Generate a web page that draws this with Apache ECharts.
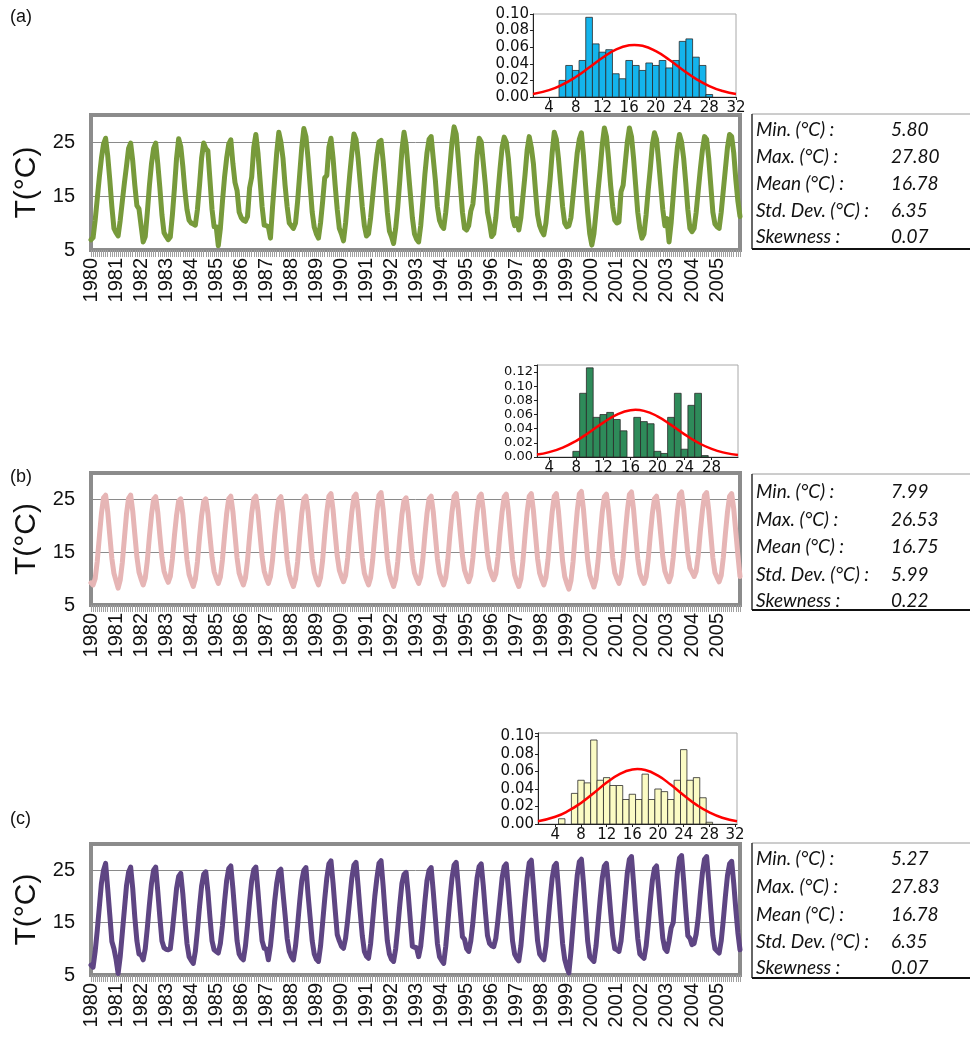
<!DOCTYPE html>
<html><head><meta charset="utf-8">
<script src="https://cdn.jsdelivr.net/npm/echarts@6/dist/echarts.min.js"></script>
<style>html,body{margin:0;padding:0;background:#fff}#c{width:970px;height:1039px}</style>
</head><body><div id="c"></div>
<script>
// ---------- tick labels / categories ----------
const years = ['1980','1981','1982','1983','1984','1985','1986','1987','1988','1989','1990','1991','1992',
  '1993','1994','1995','1996','1997','1998','1999','2000','2001','2002','2003','2004','2005'];
const monthCodes = ['01','02','03','04','05','06','07','08','09','10','11','12'];

// ---------- monthly temperature series (°C), Jan..Dec per row ----------
const seriesA = [
  6.9, 7.3,10.5,14.5,18.5,22.0,24.6,25.7,22.5,18.0,13.0, 9.0,
  8.2, 7.6,10.5,14.0,17.4,20.5,23.8,24.8,21.5,17.0,13.2,12.6,
  9.5, 6.5, 7.5,12.0,17.0,21.0,23.8,24.8,21.0,16.5,11.5, 8.2,
  7.5, 6.9, 7.4,11.5,16.5,22.0,25.6,24.2,20.5,16.0,12.5,10.5,
 10.0, 9.8, 9.6,12.5,17.0,22.0,24.8,23.8,23.4,18.0,12.5, 9.3,
  9.3, 5.8, 9.0,14.0,18.5,22.0,24.6,25.4,21.0,17.5,16.0,12.0,
 11.0,10.5,10.3,11.2,16.5,18.5,24.0,26.4,23.0,18.0,13.0, 9.6,
  9.5, 9.3, 7.2,13.0,18.0,23.0,26.8,25.0,22.0,17.0,13.0,10.0,
  9.5, 9.0,10.0,14.0,19.0,24.0,27.5,26.0,22.0,17.0,12.0, 9.2,
  8.0, 7.2,10.0,14.0,18.4,18.8,24.0,25.7,22.0,17.0,12.5, 9.0,
  8.0, 6.7,10.0,14.5,19.0,23.0,26.5,25.5,22.0,17.5,13.0, 9.5,
  7.6, 8.0,11.0,15.0,19.0,22.5,25.0,25.3,21.5,17.0,12.0, 8.5,
  7.5, 6.2, 9.0,13.0,18.0,23.5,26.8,24.5,20.0,15.5,11.0, 8.0,
  7.0, 6.5, 9.5,14.0,19.0,23.0,25.5,26.0,22.0,18.0,13.0,10.5,
  9.5, 9.0,12.0,16.0,20.5,25.0,27.8,26.5,22.0,17.0,12.0, 9.0,
  8.7, 9.5,12.2,13.5,17.5,22.5,25.7,25.0,21.0,17.0,12.0,10.0,
  7.5, 8.0,11.0,15.5,20.0,24.0,25.9,25.0,22.0,17.0,11.0, 9.5,
 10.8, 8.7,11.0,15.0,19.0,23.5,26.0,24.0,21.0,16.0,11.5, 9.5,
  8.5, 7.8,10.0,14.0,18.0,23.0,26.8,25.5,22.0,17.5,13.0,10.0,
  9.3, 9.5,11.0,15.0,19.0,23.0,25.5,26.7,22.5,17.0,12.0, 8.0,
  5.9, 8.0,12.0,16.0,20.0,24.5,27.6,26.0,22.0,17.0,13.0,10.5,
 10.0,10.2,15.8,17.0,21.0,25.0,27.6,26.0,22.0,17.0,12.0, 9.0,
  7.2, 8.0,11.5,16.0,20.0,24.5,26.7,25.5,21.5,17.0,12.5, 9.5,
 10.8, 6.5,10.0,15.0,20.0,24.0,26.4,25.0,22.0,17.5,12.5, 9.0,
  8.4, 9.0,12.0,16.0,20.0,23.5,26.0,25.5,22.0,17.0,12.0, 9.8,
  9.3, 9.0,12.0,16.0,20.0,24.0,26.4,26.0,23.0,18.0,14.0,11.2
];
const seriesB = [
  9.2, 8.8,10.0,13.3,17.9,22.3,25.3,25.8,22.7,18.2,13.8,11.0,
  9.6, 8.2, 9.7,13.0,17.6,22.2,25.2,25.8,22.8,18.4,14.1,11.2,
  9.9, 8.8,10.1,13.4,18.0,22.1,25.0,25.5,22.6,18.1,14.0,11.4,
 10.2, 9.3,10.4,13.7,18.2,22.0,24.7,25.1,22.3,17.8,13.6,10.8,
  9.6, 8.5, 9.9,13.2,17.8,21.9,24.6,25.1,22.4,18.0,14.0,11.3,
 10.1, 9.1,10.3,13.6,18.1,22.3,25.1,25.6,22.7,18.3,13.9,11.0,
  9.8, 8.8,10.1,13.4,18.0,22.3,25.1,25.6,22.8,18.4,14.1,11.4,
 10.1, 9.1,10.4,13.6,18.2,22.2,25.0,25.5,22.5,18.0,13.6,10.8,
  9.5, 8.5, 9.9,13.2,17.9,22.3,25.1,25.6,22.7,18.2,13.8,11.1,
  9.8, 8.8,10.2,13.5,18.3,22.6,25.6,26.1,23.0,18.5,14.3,11.6,
 10.4, 9.4,10.6,13.9,18.5,22.6,25.5,26.0,22.9,18.3,13.9,11.0,
  9.8, 8.8,10.2,13.6,18.3,22.7,25.8,26.3,23.1,18.4,13.8,10.9,
  9.6, 8.5, 9.9,13.3,17.9,22.1,24.8,25.3,22.4,17.9,13.7,11.1,
 10.0, 9.1,10.3,13.6,18.2,22.3,25.1,25.6,22.7,18.2,13.8,11.0,
  9.8, 8.8,10.2,13.6,18.4,22.6,25.6,26.1,23.0,18.5,14.3,11.6,
 10.4, 9.4,10.6,13.9,18.5,22.6,25.5,26.0,23.0,18.6,14.5,11.9,
 10.7, 9.8,10.9,14.1,18.6,22.6,25.5,26.0,22.8,18.1,13.6,10.7,
  9.5, 8.5, 9.9,13.4,18.2,22.6,25.6,26.1,22.9,18.3,13.8,11.0,
  9.8, 8.8,10.2,13.6,18.3,22.6,25.6,26.1,22.8,18.0,13.3,10.4,
  9.1, 8.0, 9.6,13.2,18.2,22.8,26.0,26.5,23.1,18.3,13.6,10.7,
  9.5, 8.4, 9.9,13.4,18.2,22.6,25.5,26.0,22.9,18.4,13.9,11.1,
 10.0, 9.1,10.4,13.8,18.5,22.8,25.9,26.4,23.1,18.4,13.8,11.0,
  9.9, 9.1,10.3,13.6,18.2,22.3,25.1,25.6,22.7,18.4,14.1,11.4,
 10.3, 9.4,10.6,14.0,18.6,22.8,25.9,26.4,23.3,18.9,14.6,12.0,
 11.2,10.4,11.4,14.5,19.0,22.9,25.8,26.3,23.0,18.4,13.9,11.1,
 10.2, 9.4,10.6,14.0,18.5,22.6,25.6,26.1,23.2,18.8,14.4,10.4
];
const seriesC = [
  6.9, 6.5, 9.5,13.5,18.0,22.5,25.0,26.3,21.5,16.5,11.4,10.0,
  8.0, 5.3, 8.5,13.0,17.5,22.0,24.6,25.6,21.5,16.0,11.5, 9.0,
  8.8, 7.9,10.0,14.0,18.5,22.5,25.0,25.6,21.0,16.0,11.5,10.2,
  9.9, 9.8,10.0,13.5,17.5,21.5,23.8,24.4,20.5,15.5,11.0, 8.5,
  7.8, 7.2, 9.5,13.5,18.0,22.0,24.2,24.7,21.0,16.0,11.5, 9.8,
  9.5, 9.2,11.0,14.5,19.0,23.0,25.3,25.8,21.5,16.5,11.5, 9.0,
  8.3, 7.9,10.5,14.5,19.0,23.0,25.1,25.6,21.0,16.0,11.5,10.1,
 10.0, 7.9,10.5,14.5,19.0,22.5,24.8,25.2,20.7,16.5,12.0, 9.5,
  8.5, 7.9,10.5,14.5,19.0,23.0,25.0,25.5,20.4,16.0,11.5, 9.0,
  8.0, 7.6,10.5,15.0,19.5,23.5,26.2,26.8,22.5,17.5,12.7,11.5,
 10.5,10.1,12.0,15.5,19.5,23.5,26.0,26.5,22.0,17.0,12.5, 9.5,
  8.6, 8.2,11.0,15.5,20.0,23.5,26.3,26.8,22.0,16.5,11.5, 9.0,
  8.0, 7.6,10.0,14.0,18.5,22.5,24.2,24.6,20.5,15.5,10.5,10.3,
 10.2, 8.5,10.5,14.5,19.0,23.0,25.0,25.5,21.0,16.0,11.0, 8.5,
  7.8, 7.2,10.5,15.0,19.5,23.5,26.0,26.5,22.0,17.0,12.3,11.8,
 10.0, 9.5,11.5,15.0,19.5,23.5,25.7,26.2,22.0,17.0,12.5,11.0,
 10.6,10.4,12.0,15.5,19.5,23.5,25.7,26.2,21.5,16.5,11.5, 9.0,
  8.2, 7.7,10.5,15.0,19.5,23.5,26.4,26.9,22.0,16.5,11.5, 9.0,
  8.4, 7.9,10.5,15.0,19.5,23.5,25.8,26.3,21.5,16.0,11.0, 8.0,
  6.5, 5.4, 9.5,14.5,19.5,24.0,26.6,27.1,22.5,17.0,11.5, 8.5,
  8.0, 7.6,10.5,15.0,19.5,23.5,25.8,26.3,22.0,17.0,12.5,10.0,
  9.8, 9.5,11.5,15.5,20.0,24.5,27.1,27.6,22.5,17.0,12.0, 9.0,
  8.6, 8.2,10.5,14.5,19.0,23.0,25.3,25.8,21.5,16.5,12.0,10.0,
  9.5,11.5,14.0,15.0,20.0,24.5,27.3,27.8,23.0,17.5,12.5,12.0,
 10.8,11.0,12.8,16.0,20.5,24.5,27.1,27.6,23.0,17.5,12.5,10.0,
  9.6, 9.2,11.5,15.5,20.0,24.0,26.2,26.7,22.5,17.5,13.0, 9.8
];

// ---------- histograms (relative frequency per 1 °C bin) ----------
const binsA = [6,7,8,9,10,11,12,13,14,15,16,17,18,19,20,21,22,23,24,25,26,27,28];
const histA = [0.020,0.038,0.032,0.044,0.096,0.064,0.054,0.057,0.028,0.022,0.044,0.038,0.032,0.041,0.038,0.044,0.035,0.044,0.067,0.070,0.048,0.038,0.003];
const binsB = [8,9,10,11,12,13,14,15,16,17,18,19,20,21,22,23,24,25,26,27];
const histB = [0.008,0.090,0.126,0.056,0.060,0.063,0.053,0.037,0.000,0.056,0.050,0.047,0.008,0.005,0.056,0.090,0.011,0.073,0.090,0.002];
const binsC = [5,6,7,8,9,10,11,12,13,14,15,16,17,18,19,20,21,22,23,24,25,26,27,28];
const histC = [0.006,0.000,0.035,0.050,0.047,0.096,0.050,0.053,0.044,0.044,0.028,0.034,0.028,0.057,0.028,0.040,0.037,0.028,0.050,0.085,0.050,0.053,0.030,0.002];

// ---------- fitted normal curves ----------
const curveXA = [1.6,4,6,8,10,12,14,16,16.78,18,20,22,24,26,28,30,32];
const curveYA = [0.0036,0.0083,0.0149,0.0241,0.0355,0.0473,0.0571,0.0623,0.0628,0.0617,0.0552,0.0448,0.0329,0.0219,0.0132,0.0072,0.0035];
const curveXB = [2.2,4,6,8,10,12,14,16,16.75,18,20,22,24,26,28,30,31.9];
const curveYB = [0.0035,0.0069,0.0133,0.0229,0.0353,0.0486,0.0599,0.0661,0.0666,0.0652,0.0575,0.0454,0.0320,0.0202,0.0114,0.0058,0.0027];
const curveXC = [1.3,4,6,8,10,12,14,16,16.78,18,20,22,24,26,28,30,32.3];
const curveYC = [0.0032,0.0083,0.0149,0.0241,0.0355,0.0473,0.0571,0.0623,0.0628,0.0617,0.0552,0.0448,0.0329,0.0219,0.0132,0.0072,0.0032];

const histTicksA = [4,8,12,16,20,24,28,32];
const histTicksB = [4,8,12,16,20,24,28];
const histTicksC = [4,8,12,16,20,24,28,32];

// ---------- statistics tables ----------
const statLabels = ['Min. (°C) :','Max. (°C) :','Mean (°C) :','Std. Dev. (°C) :','Skewness :'];
const statsA = ['5.80','27.80','16.78','6.35','0.07'];
const statsB = ['7.99','26.53','16.75','5.99','0.22'];
const statsC = ['5.27','27.83','16.78','6.35','0.07'];

// ---------- build ----------
const cats = years.flatMap(y => monthCodes.map(m => y + '-' + m));
const FONT = 'Liberation Sans, Arial, sans-serif';
const HFONT = 'DejaVu Sans, sans-serif';

const panels = [
  {ts:{left:91,top:115,height:135}, hg:{left:533,top:14,width:203,height:83}, xr:[1.6,32], ymax:0.10, ylab:0.10, yfs:15,
   data:seriesA, color:'#779a3b', bins:binsA, freq:histA, barColor:'#14b4ec', cx:curveXA, cy:curveYA, ticks:histTicksA,
   stats:statsA, tab:{top:114,bottom:249,rows:[130,157,184,211,237]}, label:'(a)', ly:18},
  {ts:{left:91,top:473,height:132}, hg:{left:537,top:365,width:201,height:92}, xr:[2.2,31.9], ymax:0.13, ylab:0.12, yfs:13,
   data:seriesB, color:'#e6b5b5', bins:binsB, freq:histB, barColor:'#2e8b5a', cx:curveXB, cy:curveYB, ticks:histTicksB,
   stats:statsB, tab:{top:474,bottom:610,rows:[492,520,547,575,601]}, label:'(b)', ly:478},
  {ts:{left:91,top:844,height:131}, hg:{left:538,top:733,width:199,height:91}, xr:[1.3,32.3], ymax:0.104, ylab:0.10, yfs:15,
   data:seriesC, color:'#5e4583', bins:binsC, freq:histC, barColor:'#fbfbc4', cx:curveXC, cy:curveYC, ticks:histTicksC,
   stats:statsC, tab:{top:843,bottom:978,rows:[859,887,915,942,968]}, label:'(c)', ly:820}
];

const grid = [], xAxis = [], yAxis = [], series = [], graphic = [];
panels.forEach((p, k) => {
  const gi = grid.length;
  grid.push({left:p.ts.left, top:p.ts.top, width:649, height:p.ts.height, show:true, borderColor:'#8c8c8c', borderWidth:4, backgroundColor:'#fff'});
  grid.push({left:p.hg.left, top:p.hg.top, width:p.hg.width, height:p.hg.height, show:true, borderColor:'#a8a8a8', borderWidth:1});
  // time series axes
  xAxis.push({type:'category', gridIndex:gi, data:cats, boundaryGap:false,
    axisLine:{show:false},
    axisTick:{show:true, interval:0, length:7, lineStyle:{color:'#a0a0a0', width:1}},
    axisLabel:{interval:(i)=> i % 12 === 0, formatter:(v)=> v.slice(0,4), rotate:90, fontSize:20, color:'#111', margin:8, fontFamily:FONT},
    splitLine:{show:false}});
  yAxis.push({type:'value', gridIndex:gi, min:5, max:30, interval:10,
    axisLine:{show:false}, axisTick:{show:false},
    axisLabel:{formatter:(v)=> v === 30 ? '' : String(v), fontSize:20, color:'#111', margin:16, fontFamily:FONT, showMinLabel:true},
    splitLine:{show:true, lineStyle:{color:'#8a8a8a', width:1}},
    name:'T(°C)', nameLocation:'middle', nameGap:47, nameRotate:90,
    nameTextStyle:{fontSize:30, color:'#111', fontFamily:FONT}});
  // histogram axes
  xAxis.push({type:'value', gridIndex:gi+1, min:p.xr[0], max:p.xr[1],
    axisLine:{show:true, onZero:false, lineStyle:{color:'#222', width:1}},
    axisTick:{show:true, customValues:p.ticks, length:3, lineStyle:{color:'#222'}},
    axisLabel:{customValues:p.ticks, fontSize:15, lineHeight:12, color:'#111', margin:5, fontFamily:HFONT, hideOverlap:false},
    splitLine:{show:false}});
  yAxis.push({type:'value', gridIndex:gi+1, min:0, max:p.ymax, interval:0.02,
    axisLine:{show:true, lineStyle:{color:'#222', width:1}},
    axisTick:{show:true, length:3, lineStyle:{color:'#222'}},
    axisLabel:{formatter:(v)=> v > p.ylab + 1e-9 ? '' : v.toFixed(2), fontSize:p.yfs, lineHeight:10, color:'#111', margin:4, fontFamily:HFONT,
      showMinLabel:true, hideOverlap:false},
    splitLine:{show:false}});
  series.push({type:'line', xAxisIndex:gi, yAxisIndex:gi, data:p.data, showSymbol:false, symbol:'none',
    lineStyle:{color:p.color, width:5, join:'round', cap:'round'}, z:3, silent:true});
  const barColor = p.barColor;
  series.push({type:'custom', xAxisIndex:gi+1, yAxisIndex:gi+1, silent:true, clip:true,
    data:p.bins.map((b,i)=>[b, p.freq[i]]),
    renderItem:(params, api)=>{
      const c = api.value(0), h = api.value(1);
      if (!(h > 0)) return null;
      const a = api.coord([c - 0.5, h]);
      const b = api.coord([c + 0.5, 0]);
      return {type:'rect', shape:{x:a[0], y:a[1], width:b[0]-a[0], height:b[1]-a[1]},
        style:{fill:barColor, stroke:'#2a2a2a', lineWidth:0.8}};
    }, z:2});
  series.push({type:'line', xAxisIndex:gi+1, yAxisIndex:gi+1, data:p.cx.map((x,i)=>[x, p.cy[i]]), smooth:true,
    showSymbol:false, symbol:'none', lineStyle:{color:'#ff0000', width:2.5}, z:5, silent:true});
  // panel label
  graphic.push({type:'text', left:10, top:p.ly - 10, style:{text:p.label, font:'18px ' + FONT, fill:'#111'}});
  // stats table
  const T = p.tab;
  graphic.push({type:'line', shape:{x1:752, y1:T.top, x2:970, y2:T.top}, style:{stroke:'#9a9a9a', lineWidth:1}});
  graphic.push({type:'line', shape:{x1:752, y1:T.top, x2:752, y2:T.bottom}, style:{stroke:'#333', lineWidth:1.5}});
  graphic.push({type:'line', shape:{x1:752, y1:T.bottom, x2:970, y2:T.bottom}, style:{stroke:'#111', lineWidth:2}});
  statLabels.forEach((s, i) => {
    graphic.push({type:'text', x:756, y:T.rows[i], style:{text:s, font:'italic 19px Lato, sans-serif', fill:'#111', verticalAlign:'middle'}});
    graphic.push({type:'text', x:891, y:T.rows[i], style:{text:p.stats[i], font:'italic 19px Lato, sans-serif', fill:'#111', verticalAlign:'middle'}});
  });
});

const chart = echarts.init(document.getElementById('c'), null, {renderer:'canvas'});
chart.setOption({animation:false, backgroundColor:'#fff', grid, xAxis, yAxis, series, graphic});
</script>
</body></html>
